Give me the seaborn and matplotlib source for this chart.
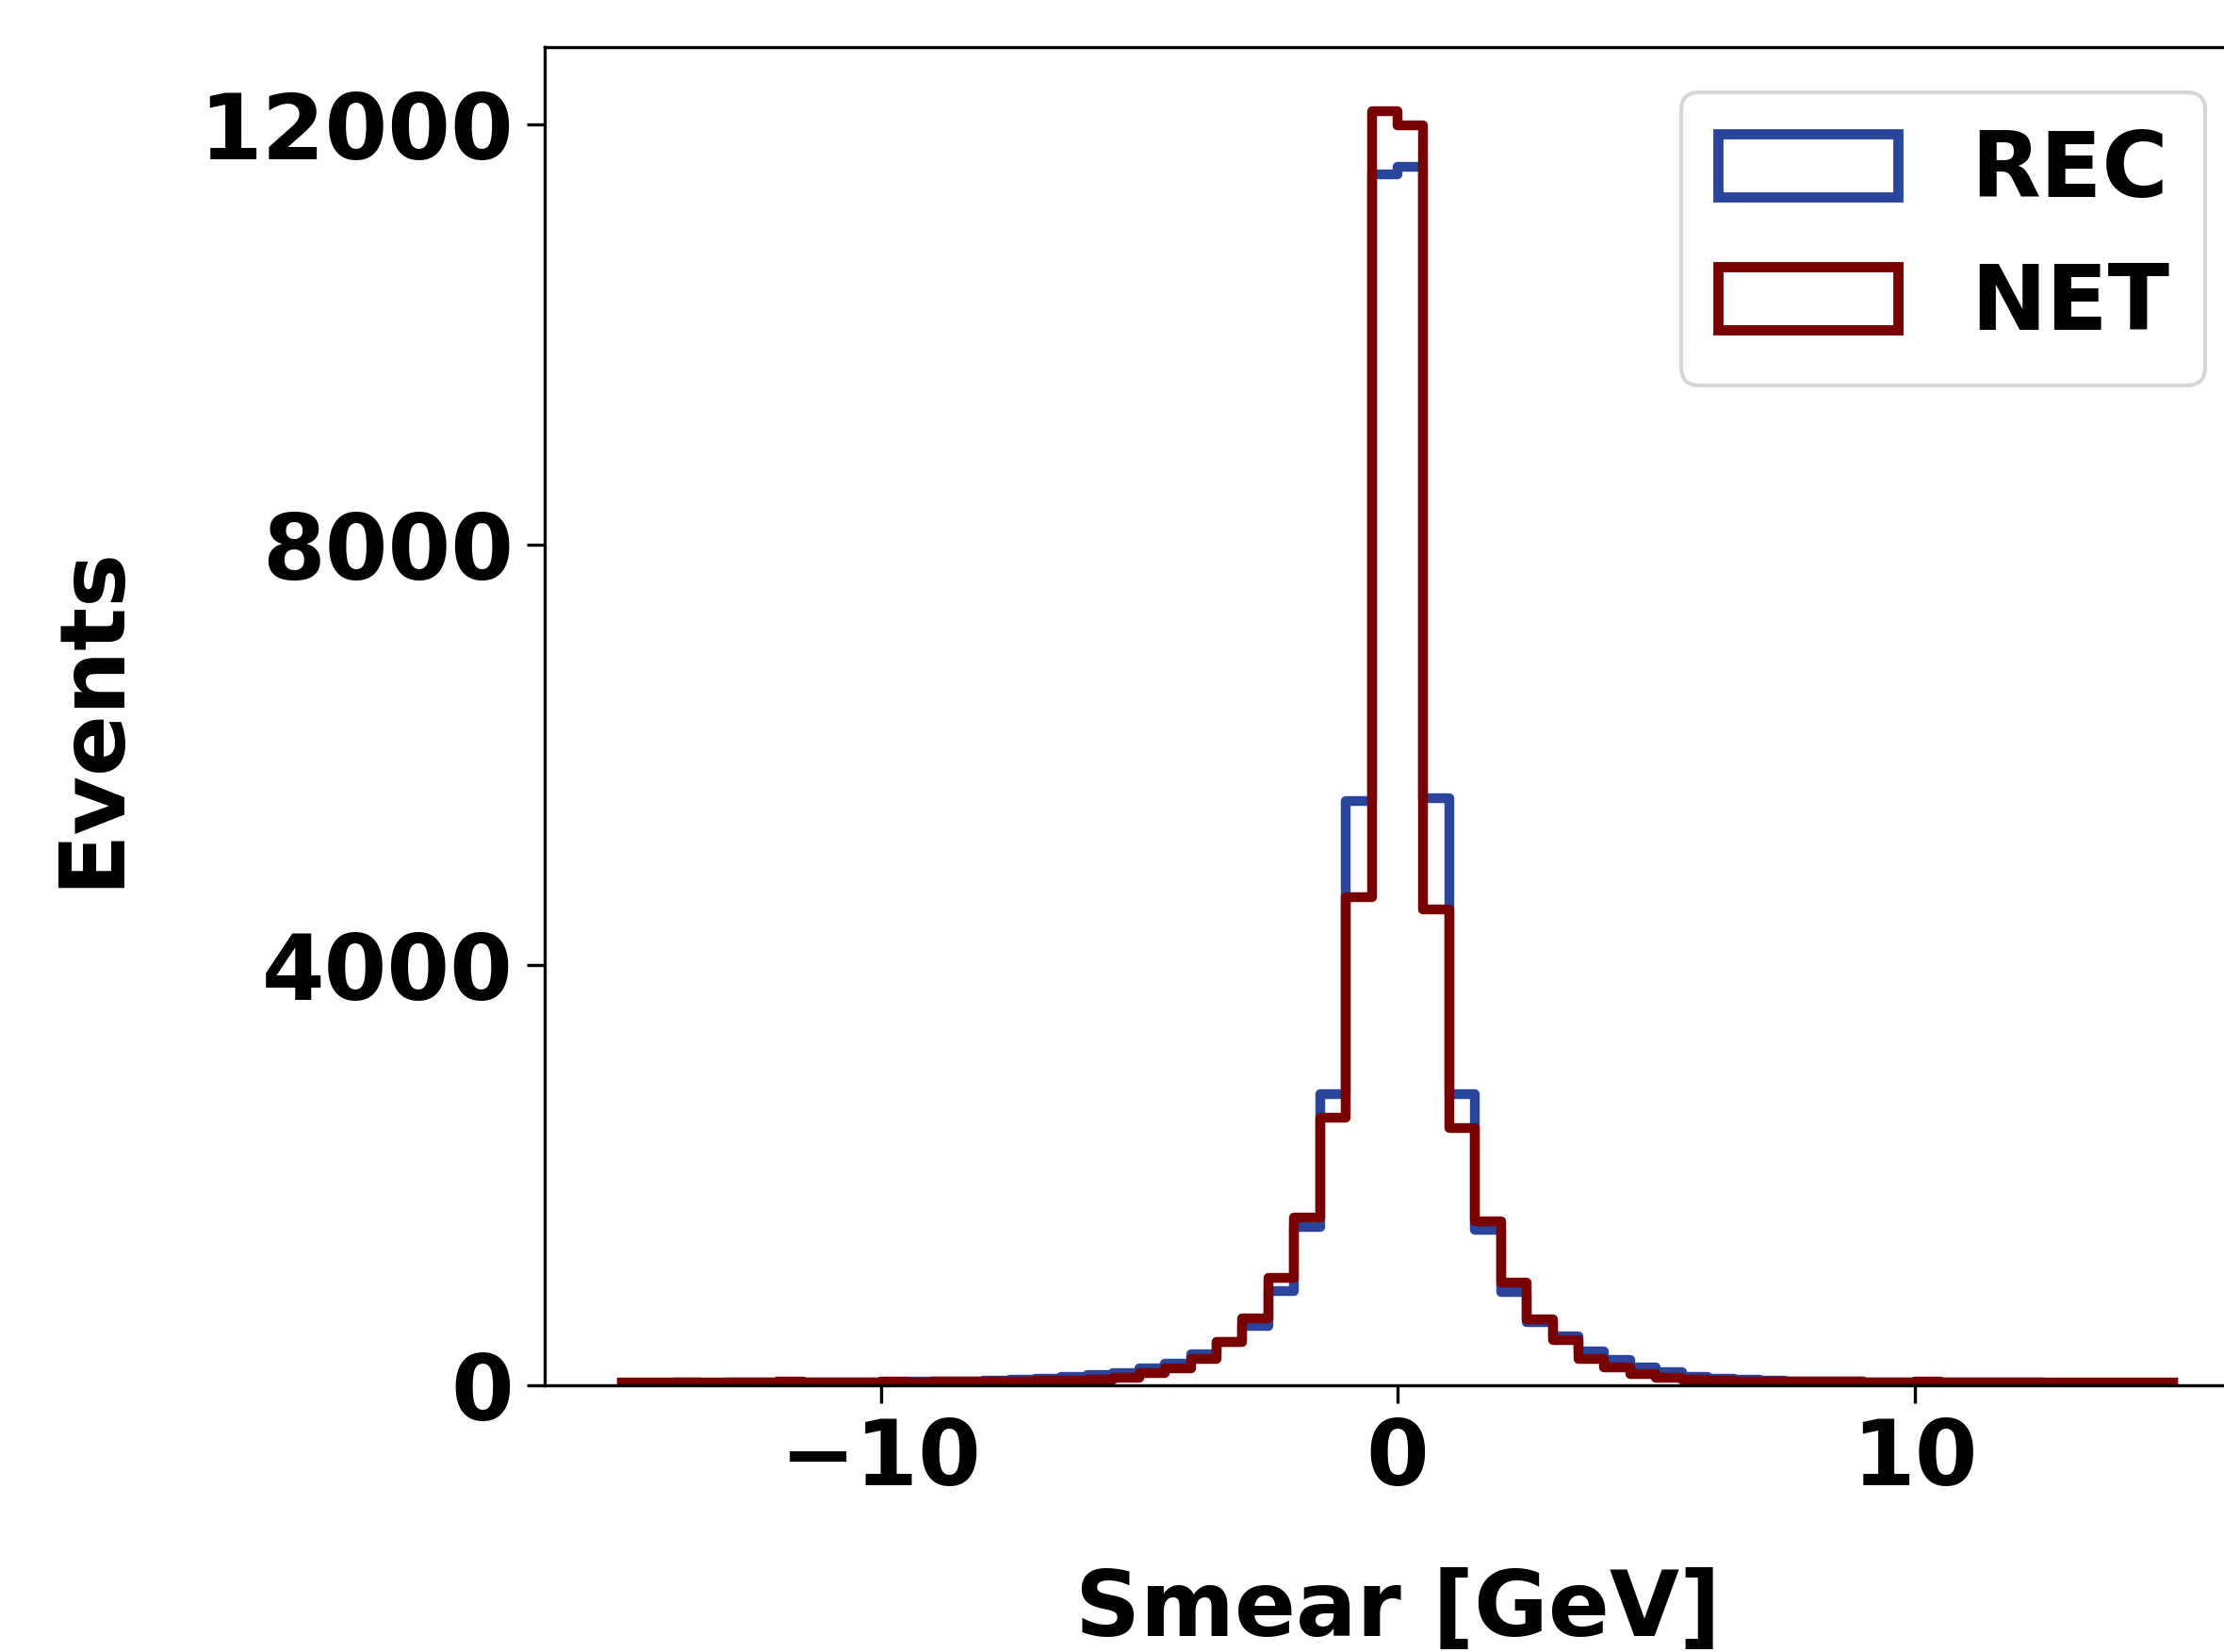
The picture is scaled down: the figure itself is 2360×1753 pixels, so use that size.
import numpy as np
import pandas as pd
import seaborn as sns
import matplotlib
matplotlib.use("Agg")
from matplotlib import pyplot as plt
from matplotlib.patches import Patch

# histogram bins: 60 bins of 0.5 GeV between -15 and 15
bin_edges = np.arange(-15, 15.01, 0.5)
bin_centers = (bin_edges[:-1] + bin_edges[1:]) / 2

rec_events = [20, 22, 24, 22, 24, 26, 24, 26, 28, 28, 30, 32, 36, 40,
              45, 55, 65, 80, 100, 120, 160, 210, 295, 415, 570, 900,
              1505, 2770, 5560, 11530, 11600, 5590, 2775, 1480, 890,
              600, 470, 320, 240, 170, 125, 80,
              60, 50, 42, 38, 34, 32, 30, 28, 28, 26, 26, 24, 24, 22,
              22, 20, 22, 20]
net_events = [30, 28, 30, 26, 30, 28, 32, 26, 30, 30, 32, 30, 32, 34,
              36, 38, 42, 46, 55, 70, 115, 165, 250, 410, 635, 1025,
              1600, 2550, 4650, 12130, 11990, 4530, 2450, 1560, 975,
              630, 430, 255, 170, 105, 75, 50,
              42, 38, 36, 34, 32, 32, 30, 30, 32, 30, 28, 28, 30, 26,
              28, 30, 28, 30]

samples = ["REC", "NET"]
colors = {"REC": "#2a459c", "NET": "#780000"}

df = pd.DataFrame({"smear": bin_centers, "REC": rec_events, "NET": net_events})
long_df = df.melt(id_vars="smear", var_name="sample", value_name="events")

plt.rcParams["font.family"] = ["DejaVu Sans"]
plt.rcParams["font.weight"] = "bold"
plt.rcParams["axes.labelweight"] = "bold"

fs = 23
fig = plt.figure(figsize=(2360 / 300, 1753 / 300), dpi=300)
ax = fig.add_axes([0.2449, 0.1614, 0.767, 0.810])

for s in samples:
    sns.histplot(data=long_df[long_df["sample"] == s], x="smear", weights="events",
                 bins=list(bin_edges), element="step", fill=False, color=colors[s],
                 linewidth=2.5, ax=ax)

ax.set_xlim(-16.5, 16.5)
ax.set_ylim(0, 1.05 * max(max(rec_events), max(net_events)))
ax.set_xticks([-10, 0, 10])
ax.set_yticks([0, 4000, 8000, 12000])
ax.tick_params(labelsize=fs, length=4.5)
ax.set_xlabel("Smear [GeV]", fontsize=fs, labelpad=16)
ax.set_ylabel("Events", fontsize=fs, labelpad=16)

handles = [Patch(facecolor="none", edgecolor=colors[s], linewidth=2.6) for s in samples]
ax.legend(handles, samples, loc="upper right", fontsize=fs)

fig.savefig("out.png", dpi=300)
